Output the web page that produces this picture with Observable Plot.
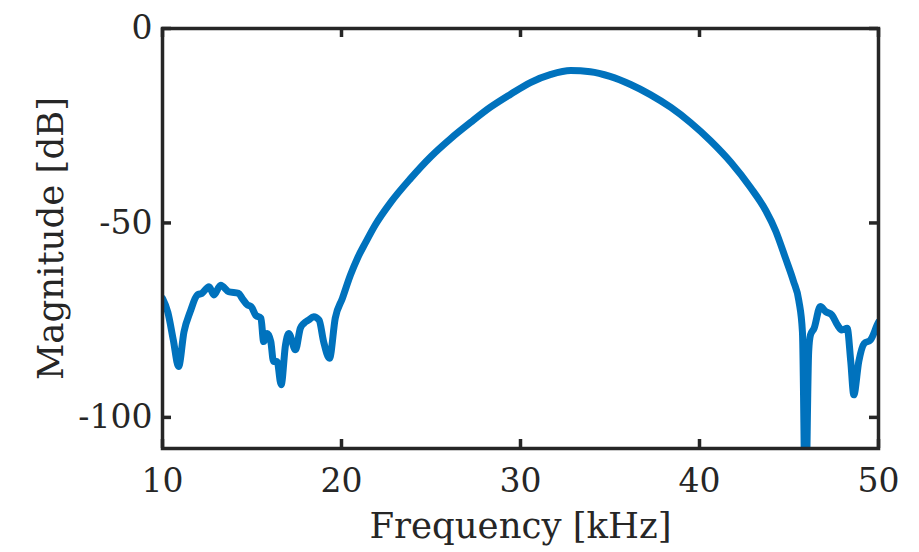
<!DOCTYPE html>
<html><head><meta charset="utf-8">
<script src="https://cdn.jsdelivr.net/npm/d3@7"></script>
<script src="https://cdn.jsdelivr.net/npm/@observablehq/plot@0.6"></script>
<style>
body{margin:0;background:#fff}
#chart svg{font-family:"DejaVu Serif"}
</style>
</head><body><div id="chart"></div>
<script>
const freq = [10, 10.3, 10.6, 10.9, 11.2, 11.55, 11.95, 12.2, 12.6, 12.87, 13.25, 13.7, 14.25, 14.45, 14.75, 14.95, 15.2, 15.5, 15.65, 15.85, 16.05, 16.2, 16.4, 16.63, 16.87, 17.05, 17.43, 17.7, 17.9, 18.15, 18.45, 18.75, 19.0, 19.33, 19.65, 20.05, 20.5, 20.9, 21.35, 21.9, 22.75, 23.85, 25.0, 26.1, 27.2, 28.3, 29.45, 30.55, 31.7, 32.8, 33.9, 35.0, 36.15, 37.25, 38.4, 39.5, 40.6, 41.75, 42.85, 43.7, 44.25, 44.8, 45.25, 45.55, 45.75, 45.92, 46.1, 46.2, 46.4, 46.75, 47.05, 47.4, 47.7, 47.95, 48.25, 48.45, 48.62, 48.9, 49.2, 49.55, 49.93, 50];
const mag = [-69.4, -73, -80, -86.9, -78, -72.8, -68.5, -68.1, -66.4, -68.5, -66, -67.7, -68.1, -69.4, -71.1, -71.5, -73.7, -74.5, -80.5, -78.4, -80.5, -85.6, -85.6, -91.6, -81.4, -78.4, -82.6, -77.1, -75.8, -75, -74.1, -75, -80.5, -84.8, -74.5, -69.4, -63.4, -59, -55, -50.4, -44.7, -38.6, -32.9, -28.3, -24.2, -20.3, -16.9, -13.9, -11.8, -10.8, -11.1, -12.3, -14.4, -17, -20.3, -24.2, -28.8, -34.4, -40.9, -46.8, -52, -59, -65, -70, -78, -125, -83, -78.8, -77.1, -71.5, -72.8, -73.7, -76.2, -77.5, -77.1, -85.6, -94.2, -85.6, -81, -80.1, -76.2, -75.5];
const xTicks = [10, 20, 30, 40, 50];
const yTicks = [-100, -50, 0];

const data = freq.map((f, i) => ({f, m: mag[i]}));
const W = 919, H = 552, mt = 28, mb = 104, ml = 162, mr = 41;
const ph = H - mt - mb, pw = W - ml - mr, tk = 9;
const axisColor = "#262626";

const chart = Plot.plot({
  width: W, height: H,
  marginTop: mt, marginBottom: mb, marginLeft: ml, marginRight: mr,
  style: {fontFamily: "DejaVu Serif", fontSize: "33px", color: axisColor, background: "#fff", overflow: "visible"},
  x: {domain: [10, 50]},
  y: {domain: [-108, 0]},
  marks: [
    Plot.line(data, {x: "f", y: "m", stroke: "#0072BD", strokeWidth: 7, clip: true, curve: "monotone-x", strokeLinejoin: "round", strokeLinecap: "round"}),
    Plot.frame({stroke: axisColor, strokeWidth: 3.5}),
    Plot.tickX(xTicks, {x: d => d, insetTop: ph - tk, stroke: axisColor, strokeWidth: 3.5}),
    Plot.tickX(xTicks, {x: d => d, insetBottom: ph - tk, stroke: axisColor, strokeWidth: 3.5}),
    Plot.tickY(yTicks, {y: d => d, insetRight: pw - tk, stroke: axisColor, strokeWidth: 3.5}),
    Plot.tickY(yTicks, {y: d => d, insetLeft: pw - tk, stroke: axisColor, strokeWidth: 3.5}),
    Plot.axisX(xTicks, {tickSize: 0, tickPadding: 20, tickFormat: d => String(d), label: "Frequency [kHz]", labelAnchor: "center", labelOffset: 89, labelArrow: "none"}),
    Plot.axisY(yTicks, {tickSize: 0, tickPadding: 10, tickFormat: d => String(d), label: "Magnitude [dB]", labelAnchor: "center", labelOffset: 125, labelArrow: "none"})
  ]
});
document.getElementById("chart").append(chart);
// axis labels slightly larger than tick labels (MATLAB default 1.1x)
chart.querySelectorAll('g[aria-label="x-axis label"] text, g[aria-label="y-axis label"] text').forEach(t => t.style.fontSize = "35.5px");
</script>
</body></html>
